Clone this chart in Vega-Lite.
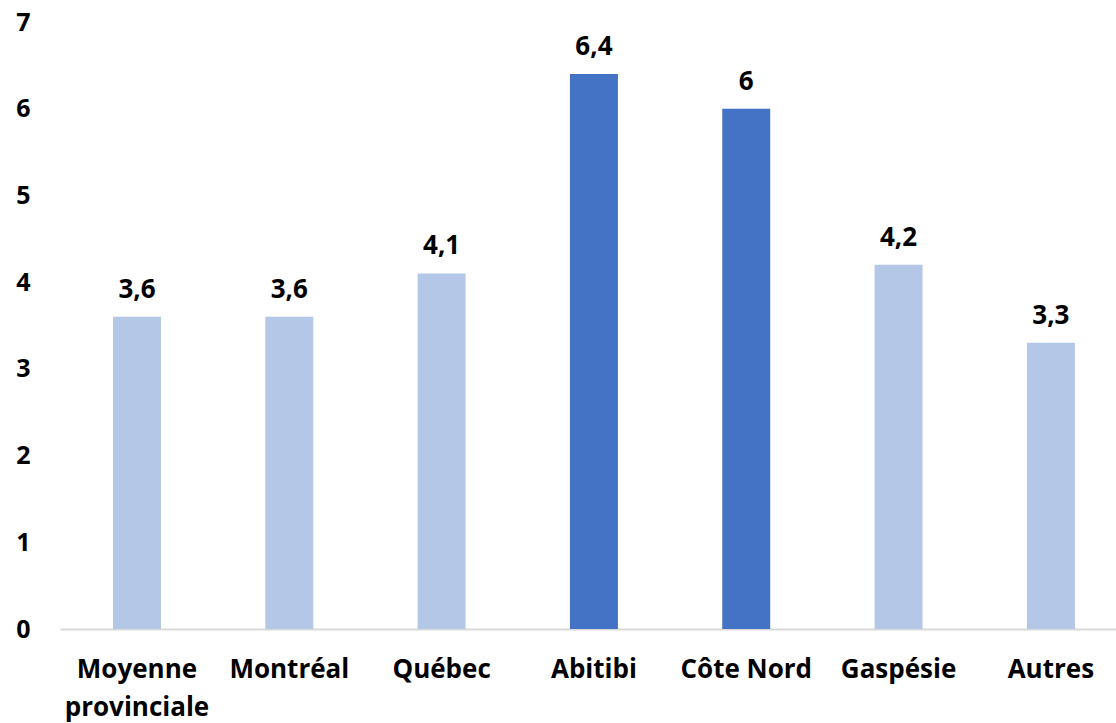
{
  "$schema": "https://vega.github.io/schema/vega-lite/v6.json",
  "width": 1056,
  "height": 607,
  "autosize": {"type": "none"},
  "padding": {"left": 60, "top": 22, "right": 0, "bottom": 94},
  "background": "white",
  "config": {
    "view": {"stroke": null},
    "font": "Open Sans",
    "locale": {"number": {"decimal": ",", "thousands": " ", "grouping": [3], "currency": ["", " $"]}}
  },
  "data": {
    "values": [
      {"region": "Moyenne provinciale", "value": 3.6},
      {"region": "Montréal", "value": 3.6},
      {"region": "Québec", "value": 4.1},
      {"region": "Abitibi", "value": 6.4},
      {"region": "Côte Nord", "value": 6},
      {"region": "Gaspésie", "value": 4.2},
      {"region": "Autres", "value": 3.3}
    ]
  },
  "encoding": {
    "x": {
      "field": "region",
      "type": "nominal",
      "sort": null,
      "scale": {"paddingInner": 0.685, "paddingOuter": 0.309, "align": 0.563},
      "axis": {
        "title": null,
        "labelAngle": 0,
        "labelFont": "Open Sans",
        "labelFontWeight": "bold",
        "labelFontSize": 26,
        "labelColor": "#000000",
        "labelPadding": 27,
        "labelLineHeight": 38,
        "labelExpr": "datum.label == 'Moyenne provinciale' ? ['Moyenne', 'provinciale'] : datum.label",
        "ticks": false,
        "domainColor": "#d9d9d9",
        "domainWidth": 2,
        "labelOverlap": false
      }
    },
    "y": {
      "field": "value",
      "type": "quantitative",
      "scale": {"domain": [0, 7]},
      "axis": {
        "title": null,
        "tickCount": 7,
        "grid": false,
        "domain": false,
        "ticks": false,
        "labelFont": "Open Sans",
        "labelFontWeight": "bold",
        "labelFontSize": 25,
        "labelColor": "#000000",
        "labelPadding": 30
      }
    }
  },
  "layer": [
    {
      "mark": {"type": "bar"},
      "encoding": {
        "color": {
          "condition": {"test": "datum.region == 'Abitibi' || datum.region == 'Côte Nord'", "value": "#4472c4"},
          "value": "#b4c7e7"
        }
      }
    },
    {
      "mark": {"type": "text", "baseline": "bottom", "dy": -14, "font": "Open Sans", "fontWeight": "bold", "fontSize": 26, "color": "#000000"},
      "encoding": {
        "text": {"field": "value", "type": "quantitative", "format": "~g"}
      }
    }
  ]
}
